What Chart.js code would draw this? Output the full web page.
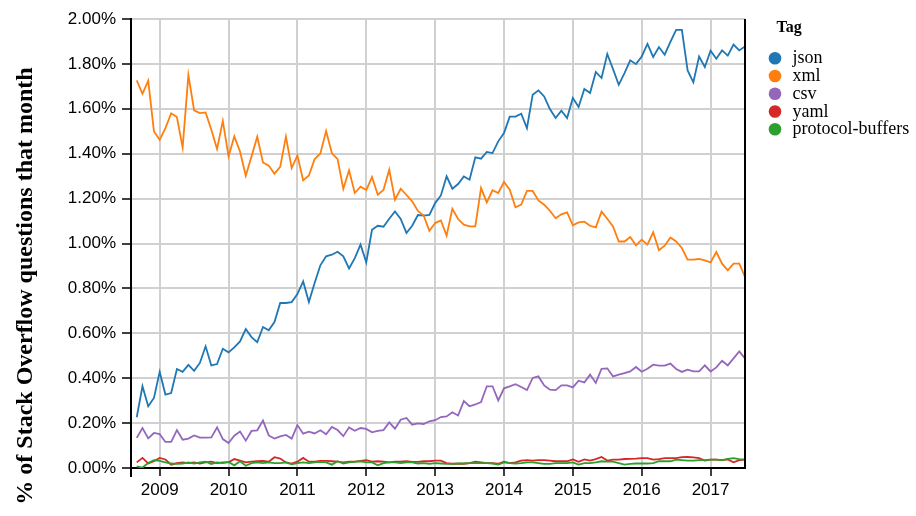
<!DOCTYPE html>
<html><head><meta charset="utf-8">
<script src="https://cdn.jsdelivr.net/npm/chart.js@4/dist/chart.umd.min.js"></script>
<style>html,body{margin:0;padding:0;background:#fff}#wrap{width:916px;height:516px}</style>
</head><body><div id="wrap"><canvas id="c" width="916" height="516"></canvas></div>
<script>
// month index 0 = Sep 2008, last = Jul 2017; axis starts Aug 2008 (-1)
const tags = ['json', 'xml', 'csv', 'yaml', 'protocol-buffers'];
const tagColors = ['#1f77b4', '#ff7f0e', '#9467bd', '#d62728', '#2ca02c'];
const yearLabels = ['2009','2010','2011','2012','2013','2014','2015','2016','2017'];
const yearMonthIndex = [4, 16, 28, 40, 52, 64, 76, 88, 100];
const yTickValues = [0, 0.2, 0.4, 0.6, 0.8, 1.0, 1.2, 1.4, 1.6, 1.8, 2.0];

const json = [0.226,0.364,0.275,0.312,0.428,0.327,0.334,0.441,0.428,0.459,
0.433,0.468,0.542,0.457,0.463,0.531,0.515,0.537,0.564,0.619,
0.583,0.560,0.628,0.613,0.650,0.735,0.735,0.739,0.775,0.831,
0.739,0.824,0.903,0.943,0.950,0.963,0.943,0.889,0.935,0.995,
0.916,1.061,1.079,1.075,1.110,1.143,1.109,1.047,1.079,1.127,
1.124,1.127,1.180,1.214,1.299,1.244,1.265,1.299,1.284,1.384,
1.378,1.408,1.403,1.455,1.492,1.565,1.565,1.578,1.514,1.663,
1.682,1.655,1.599,1.559,1.592,1.559,1.648,1.608,1.688,1.670,
1.764,1.737,1.844,1.777,1.707,1.759,1.816,1.799,1.833,1.889,
1.831,1.875,1.841,1.898,1.952,1.952,1.771,1.718,1.833,1.786,
1.859,1.823,1.860,1.837,1.886,1.860,1.878];

const xml = [1.727,1.667,1.725,1.499,1.462,1.514,1.580,1.563,1.427,1.750,
1.593,1.581,1.584,1.507,1.421,1.546,1.388,1.477,1.410,1.302,
1.388,1.476,1.361,1.347,1.311,1.341,1.476,1.336,1.392,1.281,
1.303,1.376,1.401,1.501,1.403,1.376,1.244,1.326,1.225,1.253,
1.238,1.296,1.217,1.238,1.329,1.195,1.244,1.216,1.188,1.145,
1.125,1.056,1.091,1.103,1.035,1.155,1.109,1.084,1.076,1.076,
1.247,1.183,1.237,1.225,1.274,1.240,1.161,1.173,1.234,1.234,
1.192,1.173,1.146,1.112,1.130,1.139,1.081,1.094,1.097,1.079,
1.072,1.142,1.110,1.076,1.009,1.009,1.029,0.992,1.017,0.995,
1.050,0.970,0.990,1.027,1.009,0.980,0.928,0.928,0.931,0.925,
0.916,0.962,0.910,0.880,0.910,0.910,0.851];

const csv = [0.134,0.178,0.132,0.156,0.151,0.116,0.116,0.169,0.126,0.131,
0.145,0.135,0.135,0.136,0.181,0.129,0.111,0.144,0.162,0.122,
0.165,0.168,0.211,0.145,0.131,0.141,0.147,0.131,0.191,0.153,
0.162,0.154,0.168,0.150,0.183,0.169,0.142,0.181,0.166,0.178,
0.174,0.159,0.165,0.169,0.203,0.175,0.215,0.223,0.193,0.199,
0.196,0.208,0.213,0.227,0.230,0.248,0.234,0.298,0.275,0.283,
0.294,0.364,0.364,0.301,0.355,0.364,0.373,0.361,0.347,0.401,
0.408,0.368,0.349,0.347,0.368,0.368,0.359,0.389,0.381,0.416,
0.379,0.442,0.444,0.408,0.416,0.423,0.430,0.450,0.429,0.442,
0.460,0.456,0.456,0.465,0.441,0.428,0.438,0.430,0.430,0.457,
0.430,0.448,0.478,0.457,0.488,0.519,0.488];

const yaml = [0.025,0.045,0.020,0.030,0.045,0.038,0.015,0.022,0.025,0.022,
0.025,0.020,0.025,0.028,0.022,0.025,0.025,0.040,0.033,0.025,
0.028,0.030,0.032,0.028,0.048,0.042,0.025,0.020,0.028,0.045,
0.028,0.028,0.032,0.032,0.030,0.028,0.025,0.028,0.028,0.032,
0.035,0.028,0.030,0.028,0.025,0.028,0.028,0.030,0.027,0.027,
0.030,0.030,0.033,0.033,0.022,0.019,0.019,0.019,0.022,0.028,
0.025,0.022,0.022,0.019,0.028,0.022,0.025,0.033,0.035,0.033,
0.035,0.035,0.033,0.030,0.030,0.030,0.038,0.028,0.038,0.033,
0.040,0.049,0.033,0.037,0.037,0.040,0.041,0.042,0.044,0.044,
0.037,0.040,0.044,0.044,0.044,0.048,0.049,0.047,0.044,0.033,
0.037,0.037,0.035,0.038,0.025,0.035,0.037];

const protocolBuffers = [0.007,0.002,0.022,0.035,0.032,0.025,0.020,0.018,0.020,0.025,
0.020,0.025,0.028,0.018,0.025,0.022,0.027,0.012,0.030,0.010,
0.022,0.025,0.022,0.025,0.022,0.022,0.025,0.016,0.022,0.025,
0.022,0.025,0.027,0.025,0.015,0.030,0.020,0.025,0.027,0.030,
0.025,0.025,0.012,0.022,0.025,0.025,0.022,0.025,0.025,0.020,
0.022,0.018,0.022,0.020,0.018,0.018,0.020,0.020,0.022,0.022,
0.022,0.022,0.020,0.015,0.025,0.022,0.020,0.022,0.025,0.025,
0.022,0.018,0.018,0.022,0.022,0.022,0.025,0.015,0.022,0.022,
0.025,0.030,0.028,0.028,0.022,0.015,0.018,0.020,0.020,0.020,
0.022,0.030,0.030,0.030,0.037,0.035,0.033,0.033,0.035,0.035,
0.037,0.037,0.035,0.041,0.044,0.040,0.037];

const seriesValues = [json, xml, csv, yaml, protocolBuffers];
const yTitle = '% of Stack Overflow questions that month';
const legendTitle = 'Tag';

const SANS = '"Liberation Sans", Arial, sans-serif';
const SERIF = '"Liberation Serif", "Times New Roman", serif';

const extras = {
  id: 'extras',
  afterDraw(chart) {
    const ctx = chart.ctx, a = chart.chartArea;
    ctx.save();
    // right border
    ctx.strokeStyle = '#000'; ctx.lineWidth = 2;
    ctx.beginPath(); ctx.moveTo(a.right, a.top); ctx.lineTo(a.right, a.bottom + 1); ctx.stroke();
    // y axis domain extension below
    ctx.beginPath(); ctx.moveTo(a.left, a.bottom); ctx.lineTo(a.left, a.bottom + 9); ctx.stroke();
    // y title
    ctx.fillStyle = '#000';
    ctx.font = 'bold 24px ' + SERIF;
    ctx.textAlign = 'center'; ctx.textBaseline = 'alphabetic';
    ctx.translate(32, 286); ctx.rotate(-Math.PI / 2);
    ctx.fillText(yTitle, 0, 0);
    ctx.restore();
    // legend
    ctx.save();
    ctx.fillStyle = '#000';
    ctx.font = 'bold 16px ' + SERIF;
    ctx.textAlign = 'left'; ctx.textBaseline = 'alphabetic';
    ctx.fillText(legendTitle, 776.5, 32);
    ctx.font = '18px ' + SERIF;
    tags.forEach((t, k) => {
      const cy = 58.3 + k * 17.75;
      ctx.fillStyle = tagColors[k];
      ctx.beginPath(); ctx.arc(775, cy, 6.3, 0, Math.PI * 2); ctx.fill();
      ctx.fillStyle = '#000';
      ctx.fillText(t, 792.5, cy + 5);
    });
    ctx.restore();
  }
};

new Chart(document.getElementById('c'), {
  type: 'line',
  data: {
    datasets: tags.map((t, k) => ({
      label: t,
      data: seriesValues[k].map((v, i) => ({ x: i, y: v })),
      borderColor: tagColors[k],
      backgroundColor: tagColors[k],
      borderWidth: 1.8,
      pointRadius: 0,
      tension: 0,
      fill: false,
      order: tags.length - k
    }))
  },
  options: {
    responsive: false,
    animation: false,
    devicePixelRatio: 1,
    layout: { padding: { left: 0, right: 171, top: 19, bottom: 0 } },
    plugins: { legend: { display: false }, tooltip: { enabled: false } },
    scales: {
      x: {
        type: 'linear', min: -1, max: 106,
        afterBuildTicks: s => { s.ticks = yearMonthIndex.map(v => ({ value: v })); },
        afterFit: s => { s.height = 48; },
        grid: { color: '#d0d0d0', lineWidth: 2, tickLength: 8, tickColor: '#000', tickWidth: 1.5 },
        border: { display: true, color: '#000', width: 2 },
        ticks: {
          autoSkip: false, maxRotation: 0, padding: 4, color: '#000',
          font: { family: SANS, size: 17 },
          callback: v => yearLabels[yearMonthIndex.indexOf(v)] || ''
        }
      },
      y: {
        min: 0, max: 2,
        afterBuildTicks: s => { s.ticks = yTickValues.map(v => ({ value: v })); },
        afterFit: s => { s.width = 131; },
        grid: { color: '#d0d0d0', lineWidth: 2, tickLength: 9, tickColor: '#000', tickWidth: 1.5 },
        border: { display: true, color: '#000', width: 2 },
        ticks: {
          padding: 6, color: '#000',
          font: { family: SANS, size: 17 },
          callback: v => v.toFixed(2) + '%'
        }
      }
    }
  },
  plugins: [extras]
});
</script>
</body></html>
